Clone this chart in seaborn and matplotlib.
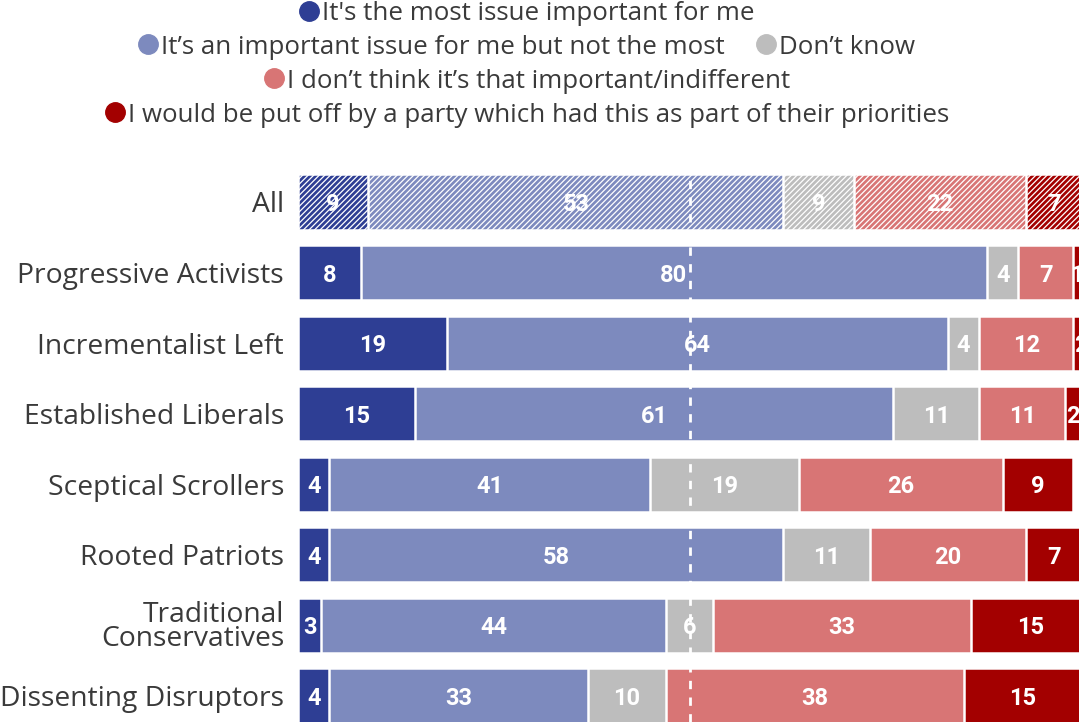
import numpy as np
import pandas as pd
import matplotlib
matplotlib.use("Agg")
import matplotlib.pyplot as plt
from matplotlib.lines import Line2D
import seaborn as sns

# Survey segments (rows, top to bottom)
segments = ["All", "Progressive Activists", "Incrementalist Left", "Established Liberals",
            "Sceptical Scrollers", "Rooted Patriots", "Traditional\nConservatives",
            "Dissenting Disruptors"]

# Response shares (%) per segment
most_important = [9, 8, 19, 15, 4, 4, 3, 4]
important_not_most = [53, 80, 64, 61, 41, 58, 44, 33]
dont_know = [9, 4, 4, 11, 19, 11, 6, 10]
not_important = [22, 7, 12, 11, 26, 20, 33, 38]
put_off = [7, 1, 2, 2, 9, 7, 15, 15]

responses = [
    "It's the most issue important for me",
    "It\u2019s an important issue for me but not the most",
    "Don\u2019t know",
    "I don\u2019t think it\u2019s that important/indifferent",
    "I would be put off by a party which had this as part of their priorities",
]
colors = ["#2E3E94", "#7D8ABE", "#BDBDBD", "#D87575", "#A30000"]

sns.set_theme(style="white")
plt.rcParams["font.family"] = ["Open Sans", "DejaVu Sans"]
plt.rcParams["hatch.linewidth"] = 0.9

series = [most_important, important_not_most, dont_know, not_important, put_off]
df = pd.DataFrame({"segment": segments})
for name, vals in zip(responses, series):
    df[name] = vals
cum = df[responses].cumsum(axis=1)

fig = plt.figure(figsize=(10.79, 7.22), dpi=100)
W, H = 1079, 722
top_px, bot_px = 166, 722
ax = fig.add_axes([298 / W, 1 - bot_px / H, 783 / W, (bot_px - top_px) / H])

# Stacked bars: draw cumulative totals from the outermost layer inwards
for name, col in reversed(list(zip(responses, colors))):
    sns.barplot(x=cum[name], y=df["segment"], color=col, orient="h", width=0.78,
                edgecolor="white", linewidth=1.8, saturation=1, ax=ax, zorder=2)

# Hatch the "All" row
for p in ax.patches:
    y_c = p.get_y() + p.get_height() / 2
    if abs(y_c - 0) < 0.01:
        p.set_hatch("//////")

ax.set_xlim(0, 100)
ax.set_ylim(7.37, -0.51)
ax.axvline(50, color="white", lw=2, ls=(0, (3, 3)), zorder=4)

# Value labels
for i in range(len(segments)):
    left = 0
    for name in responses:
        v = df.loc[i, name]
        ax.text(left + v / 2, i, f"{v}", ha="center", va="center_baseline", color="white",
                fontsize=17, fontweight="bold", family=["Roboto", "DejaVu Sans"], zorder=5)
        left += v

ax.set_xlabel("")
ax.set_ylabel("")
ax.set_xticks([])
ax.tick_params(axis="y", length=0, pad=10, labelsize=20.3, labelcolor="#3A3A3A")
for lab in ax.get_yticklabels():
    lab.set_linespacing(0.82)
for s in ax.spines.values():
    s.set_visible(False)

# Legend rows, centred above the chart
def handle(c):
    return Line2D([], [], marker="o", ls="", markersize=14, markerfacecolor=c,
                  markeredgecolor=c)

legend_rows = [[0], [1, 2], [3], [4]]
row_y = [14, 47, 81, 115]
for idxs, yp in zip(legend_rows, row_y):
    leg = fig.legend([handle(colors[k]) for k in idxs], [responses[k] for k in idxs],
                     loc="center", bbox_to_anchor=(524 / W, 1 - yp / H), ncol=len(idxs),
                     frameon=False, fontsize=18.6, handletextpad=-0.1, columnspacing=1.0,
                     handlelength=1.2, borderpad=0, borderaxespad=0)
    for t in leg.get_texts():
        t.set_color("#3A3A3A")

fig.savefig("out.png", dpi=100)
